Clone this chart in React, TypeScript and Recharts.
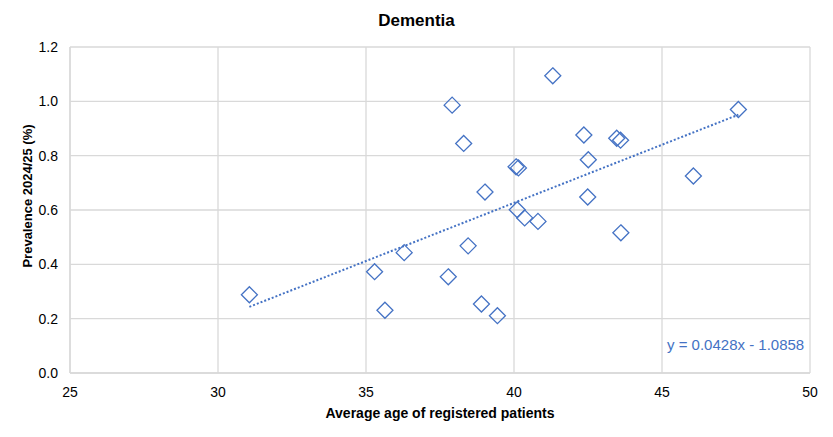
import {
  ScatterChart,
  Scatter,
  XAxis,
  YAxis,
  CartesianGrid,
  ReferenceLine,
} from 'recharts'

// average age of registered patients (x) vs dementia prevalence % (y)
const ageValues = [
  31.06, 35.29, 35.64, 36.29, 37.78, 37.91, 38.3, 38.45, 38.9, 39.02, 39.44, 40.07, 40.15,
  40.11, 40.36, 40.81, 41.31, 42.36, 42.51, 42.49, 43.47, 43.6, 43.61, 46.06, 47.58,
]
const prevalenceValues = [
  0.288, 0.373, 0.231, 0.443, 0.354, 0.986, 0.845, 0.468, 0.254, 0.666, 0.211, 0.759, 0.755,
  0.601, 0.571, 0.558, 1.094, 0.876, 0.785, 0.648, 0.864, 0.857, 0.516, 0.725, 0.97,
]
const xTicks = [25, 30, 35, 40, 45, 50]
const yTicks = [0, 0.2, 0.4, 0.6, 0.8, 1.0, 1.2]

// linear trendline as reported on the chart
const trendSlope = 0.0428
const trendIntercept = -1.0858

const BLUE = '#4472C4'
const GRID = '#d9d9d9'
const FONT = '"Liberation Sans", Arial, sans-serif'

const points = ageValues.map((x, i) => ({ x, y: prevalenceValues[i] }))
const xMin = Math.min(...ageValues)
const xMax = Math.max(...ageValues)
const trendSegment = [
  { x: xMin, y: trendSlope * xMin + trendIntercept },
  { x: xMax, y: trendSlope * xMax + trendIntercept },
]

function Diamond(props: any) {
  const { cx, cy } = props
  if (cx == null || cy == null) return null
  const r = 8
  return (
    <polygon
      points={`${cx},${cy - r} ${cx + r},${cy} ${cx},${cy + r} ${cx - r},${cy}`}
      fill="none"
      stroke={BLUE}
      strokeWidth={1.3}
    />
  )
}

export default function App() {
  return (
    <div style={{ position: 'relative', width: 833, height: 437, fontFamily: FONT, margin: -8 }}>
      <div
        style={{
          position: 'absolute',
          top: 11,
          left: 0,
          width: 833,
          textAlign: 'center',
          fontSize: 17,
          fontWeight: 'bold',
        }}
      >
        Dementia
      </div>
      <div
        style={{
          position: 'absolute',
          left: 27,
          top: 196,
          transform: 'translate(-50%, -50%) rotate(-90deg)',
          whiteSpace: 'nowrap',
          fontSize: 13,
          fontWeight: 'bold',
        }}
      >
        Prevalence 2024/25 (%)
      </div>
      <div
        style={{
          position: 'absolute',
          top: 405,
          left: 70,
          width: 740,
          textAlign: 'center',
          fontSize: 14,
          fontWeight: 'bold',
        }}
      >
        Average age of registered patients
      </div>
      <div style={{ position: 'absolute', left: 667, top: 336, fontSize: 15, color: BLUE }}>
        y = 0.0428x - 1.0858
      </div>
      <ScatterChart width={833} height={437} margin={{ top: 47, right: 23, bottom: 0, left: 0 }}>
        <CartesianGrid stroke={GRID} strokeWidth={1.3} />
        <XAxis
          type="number"
          dataKey="x"
          domain={[25, 50]}
          ticks={xTicks}
          height={64}
          axisLine={{ stroke: GRID, strokeWidth: 1.3 }}
          tickLine={false}
          tickMargin={8}
          tick={{ fill: '#000', fontSize: 14, fontFamily: FONT }}
        />
        <YAxis
          type="number"
          dataKey="y"
          domain={[0, 1.2]}
          ticks={yTicks}
          width={70}
          axisLine={{ stroke: GRID, strokeWidth: 1.3 }}
          tickLine={false}
          tickMargin={6}
          tickFormatter={(v: number) => v.toFixed(1)}
          tick={{ fill: '#000', fontSize: 14, fontFamily: FONT }}
        />
        <ReferenceLine
          segment={trendSegment}
          stroke={BLUE}
          strokeWidth={2}
          strokeDasharray="2 2"
          ifOverflow="visible"
        />
        <Scatter data={points} shape={<Diamond />} isAnimationActive={false} />
      </ScatterChart>
    </div>
  )
}
